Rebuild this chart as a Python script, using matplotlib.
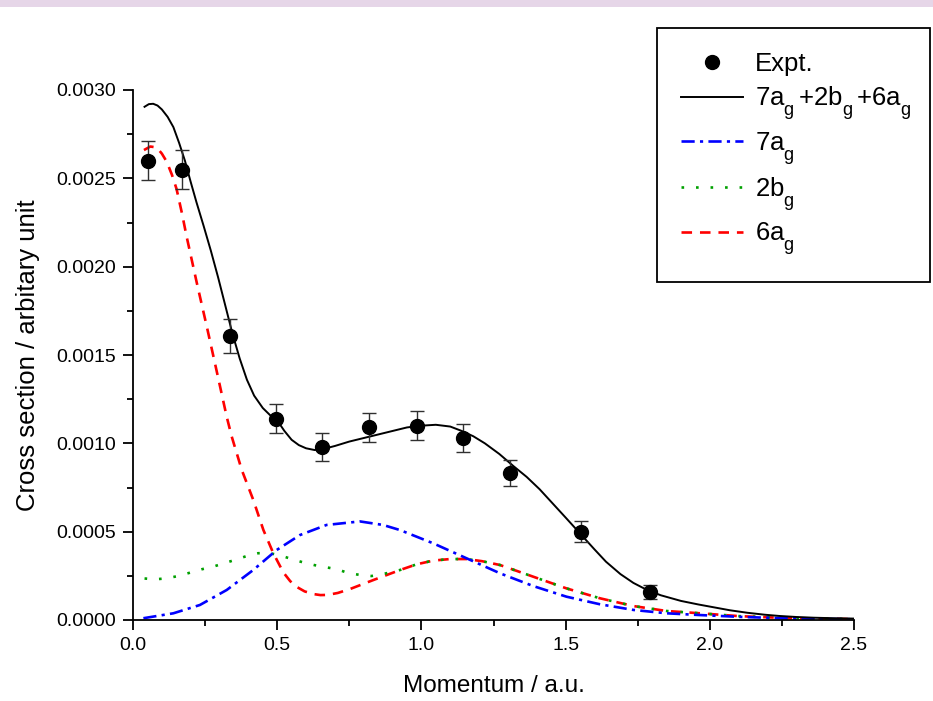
import matplotlib
matplotlib.use("Agg")
import matplotlib.pyplot as plt
from matplotlib.patches import Rectangle
from matplotlib.lines import Line2D

plt.rcParams['font.family'] = ['Liberation Sans', 'DejaVu Sans']
plt.rcParams['mathtext.fontset'] = 'custom'
plt.rcParams['mathtext.rm'] = 'Liberation Sans'
plt.rcParams['mathtext.it'] = 'Liberation Sans'
try:
    import matplotlib._mathtext as _mt
    _mt.FontConstantsBase.sub1 = 0.75
    _mt.FontConstantsBase.script_space = 0.3
except Exception:
    pass

# Experimental data
expt_x = [0.052, 0.17, 0.336, 0.497, 0.657, 0.819, 0.984, 1.145, 1.307, 1.553, 1.793]
expt_y = [0.00260, 0.00255, 0.00161, 0.00114, 0.00098, 0.00109, 0.00110, 0.00103, 0.00083, 0.00050, 0.00016]
expt_err = [0.00011, 0.00011, 0.000096, 0.000081, 0.000079, 0.00008, 0.000082, 0.000079, 0.000074, 0.00006, 0.00004]

# Total 7ag+2bg+6ag
tot_x = [0.04, 0.055, 0.07, 0.085, 0.10, 0.12, 0.14, 0.16, 0.18, 0.20, 0.22, 0.245, 0.27,
         0.295, 0.32, 0.345, 0.37, 0.395, 0.42, 0.45, 0.475, 0.50, 0.525, 0.55, 0.575, 0.60,
         0.63, 0.66, 0.70, 0.75, 0.80, 0.85, 0.90, 0.95, 1.00, 1.05, 1.10, 1.14, 1.18, 1.22,
         1.27, 1.32, 1.365, 1.41, 1.455, 1.50, 1.55, 1.60, 1.64, 1.69, 1.735, 1.78, 1.83,
         1.90, 1.96, 2.01, 2.07, 2.13, 2.19, 2.24, 2.30, 2.36, 2.43, 2.5]
tot_y = [0.002905, 0.00292, 0.002922, 0.002912, 0.00289, 0.002848, 0.00279, 0.0027, 0.0026,
         0.00248, 0.002365, 0.00223, 0.00209, 0.00194, 0.00178, 0.00162, 0.00148, 0.00136,
         0.00127, 0.00120, 0.00116, 0.00113, 0.00107, 0.00102, 0.00099, 0.000972, 0.000962,
         0.000968, 0.000985, 0.00101, 0.00103, 0.00105, 0.00107, 0.00109, 0.0011, 0.001105,
         0.001095, 0.00107, 0.00104, 0.001, 0.00094, 0.00087, 0.00081, 0.00074, 0.00066,
         0.00058, 0.00049, 0.0004, 0.00033, 0.00026, 0.00021, 0.000172, 0.00014, 0.000108,
         0.000088, 0.000073, 0.000055, 0.000041, 0.00003, 0.000023, 0.000017, 0.000013,
         0.00001, 0.000008]

# 7ag
a7_x = [0.036, 0.14, 0.232, 0.325, 0.417, 0.498, 0.579, 0.671, 0.787, 0.867, 0.926, 1.041,
        1.157, 1.273, 1.388, 1.503, 1.619, 1.735, 1.85, 1.966, 2.1, 2.25, 2.5]
a7_y = [0.00001, 0.000038, 0.000085, 0.00017, 0.000283, 0.000396, 0.000481, 0.000538,
        0.000558, 0.000538, 0.000509, 0.000434, 0.000349, 0.000264, 0.000192, 0.000132,
        0.000089, 0.000057, 0.000038, 0.000028, 0.000018, 0.00001, 0.000004]

# 6ag
a6_x = [0.038, 0.06, 0.082, 0.10, 0.117, 0.135, 0.151, 0.17, 0.186, 0.221, 0.256, 0.29,
        0.325, 0.342, 0.377, 0.417, 0.452, 0.486, 0.521, 0.545, 0.567, 0.595, 0.625, 0.65,
        0.675, 0.71, 0.752, 0.833, 0.926, 0.983, 1.04, 1.099, 1.157, 1.21, 1.273, 1.388,
        1.503, 1.619, 1.735, 1.85, 1.966, 2.1, 2.25, 2.5]
a6_y = [0.00266, 0.00268, 0.002675, 0.00264, 0.002594, 0.00252, 0.00244, 0.0023, 0.00217,
        0.00191, 0.00166, 0.00141, 0.00115, 0.00104, 0.00085, 0.00068, 0.00051, 0.00038,
        0.00027, 0.00022, 0.000188, 0.000162, 0.000147, 0.000141, 0.000142, 0.000153,
        0.000175, 0.000226, 0.000283, 0.000315, 0.000336, 0.000345, 0.000345, 0.000333,
        0.000311, 0.000245, 0.000179, 0.000123, 0.000079, 0.000051, 0.000038, 0.000022,
        0.000012, 0.000005]

# 2bg
b2_x = [0.04, 0.076, 0.117, 0.157, 0.198, 0.238, 0.278, 0.315, 0.354, 0.394, 0.434, 0.475,
        0.512, 0.55, 0.59, 0.631, 0.671, 0.708, 0.746, 0.787, 0.827, 0.867, 0.926, 0.983,
        1.04, 1.099, 1.157, 1.21, 1.273, 1.388, 1.503, 1.619, 1.735, 1.85, 1.966, 2.1, 2.25, 2.5]
b2_y = [0.000235, 0.00023, 0.000236, 0.000249, 0.000268, 0.000287, 0.000302, 0.000321,
        0.00034, 0.000362, 0.000378, 0.000378, 0.000365, 0.000345, 0.000326, 0.00031,
        0.000298, 0.000287, 0.000266, 0.000255, 0.000249, 0.00026, 0.000283, 0.000315,
        0.000336, 0.000345, 0.000345, 0.000333, 0.000311, 0.000245, 0.000179, 0.000123,
        0.000079, 0.000051, 0.000038, 0.000022, 0.000012, 0.000005]

xticks = [0.0, 0.5, 1.0, 1.5, 2.0, 2.5]
yticks = [0.0, 0.0005, 0.0010, 0.0015, 0.0020, 0.0025, 0.0030]

W, H = 933, 701
fig = plt.figure(figsize=(W / 100, H / 100), dpi=100)
fig.patches.append(Rectangle((0, 1 - 7 / H), 1, 7 / H, transform=fig.transFigure,
                             facecolor='#e6d6e8', edgecolor='none', zorder=-1))
ax = fig.add_axes([133 / W, 1 - 620 / H, (854 - 133) / W, (620 - 90) / H])

l6, = ax.plot(a6_x, a6_y, color='#ff0000', lw=1.9, dashes=(4, 3), label=r'6a$_\mathregular{g}$')
l2, = ax.plot(b2_x, b2_y, color='#00a000', lw=1.9, dashes=(1, 4.5), label=r'2b$_\mathregular{g}$')
l7, = ax.plot(a7_x, a7_y, color='#0000ff', lw=1.9, dashes=(5, 2, 1.2, 2), label=r'7a$_\mathregular{g}$')
lt, = ax.plot(tot_x, tot_y, color='black', lw=1.4,
              label=r'7a$_\mathregular{g}$+2b$_\mathregular{g}$+6a$_\mathregular{g}$')
ax.errorbar(expt_x, expt_y, yerr=expt_err, fmt='o', color='black', ms=10,
            ecolor='#303030', elinewidth=1.0, capsize=5, capthick=1.0)
expt_handle = Line2D([], [], ls='none', marker='o', ms=10, color='black')

ax.set_xlim(0, 2.5)
ax.set_ylim(0, 0.003)
ax.set_xticks(xticks)
ax.set_yticks(yticks)
ax.set_xticks([0.25, 0.75, 1.25, 1.75, 2.25], minor=True)
ax.set_yticks([0.00025, 0.00075, 0.00125, 0.00175, 0.00225, 0.00275], minor=True)
ax.set_xticklabels(['%.1f' % v for v in xticks])
ax.set_yticklabels(['%.4f' % v for v in yticks])
for s in ['top', 'right']:
    ax.spines[s].set_visible(False)
for s in ['left', 'bottom']:
    ax.spines[s].set_linewidth(1.3)
ax.tick_params(which='major', direction='out', length=7, width=1.3, labelsize=14)
ax.tick_params(axis='y', which='major', pad=5)
ax.tick_params(axis='x', which='major', pad=5)
ax.tick_params(which='minor', direction='out', length=4, width=1.3)

ax.set_xlabel('Momentum / a.u.', fontsize=17.5, labelpad=15)
ax.set_ylabel('Cross section / arbitary unit', fontsize=18.5, labelpad=12)

leg = fig.legend([expt_handle, lt, l7, l2, l6],
                 ['Expt.', lt.get_label(), l7.get_label(), l2.get_label(), l6.get_label()],
                 loc='upper left',
                 bbox_to_anchor=(657 / W, 1 - 28 / H - 0.01, (930 - 657) / W, 0.01),
                 mode='expand',
                 fontsize=18.5, frameon=True, fancybox=False, framealpha=1,
                 edgecolor='black', handlelength=2.4, handletextpad=0.45,
                 labelspacing=0.3, borderpad=0.95, borderaxespad=0)
leg.get_frame().set_linewidth(1.3)

fig.savefig('out.png', dpi=100)
